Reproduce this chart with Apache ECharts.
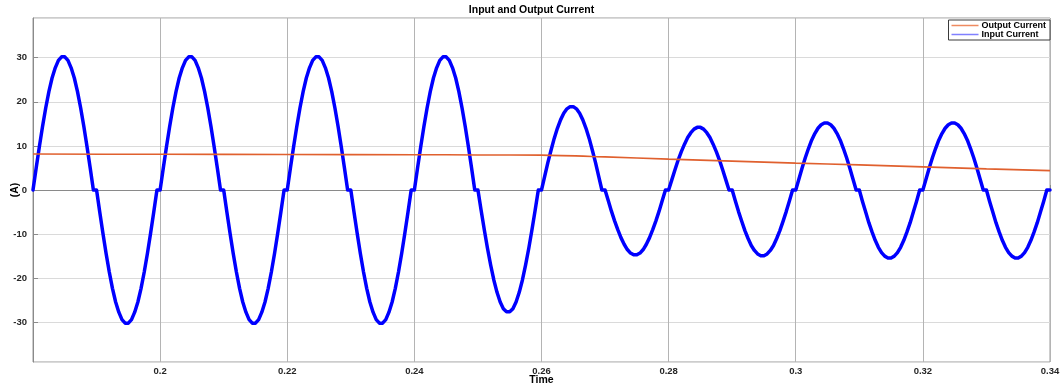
<!DOCTYPE html>
<html>
<head>
<meta charset="utf-8">
<script src="https://cdn.jsdelivr.net/npm/echarts@6/dist/echarts.min.js"></script>
<style>
  html, body { margin: 0; padding: 0; background: #fff; }
  #chart { width: 1063px; height: 387px; }
</style>
</head>
<body>
<div id="chart"></div>
<script>
// Input current is logged on a fixed 0.5 ms time base starting at t = 0.18 s
const SAMPLE_START = 0.18;
const SAMPLE_STEP = 0.0005;

// Input current (A), one row per 10 ms half cycle (20 samples each)
const inputCurrent = [
  0, 5.0, 9.8, 14.4, 18.6, 22.3, 25.4, 27.7, 29.4, 30.2, 30.2, 29.4, 27.7, 25.4, 22.3, 18.6, 14.4, 9.8, 5.0, 0,
  0, -5.0, -9.8, -14.4, -18.6, -22.3, -25.4, -27.7, -29.4, -30.2, -30.2, -29.4, -27.7, -25.4, -22.3, -18.6, -14.4, -9.8, -5.0, 0,
  0, 5.0, 9.8, 14.4, 18.6, 22.3, 25.4, 27.7, 29.4, 30.2, 30.2, 29.4, 27.7, 25.4, 22.3, 18.6, 14.4, 9.8, 5.0, 0,
  0, -5.0, -9.8, -14.4, -18.6, -22.3, -25.4, -27.7, -29.4, -30.2, -30.2, -29.4, -27.7, -25.4, -22.3, -18.6, -14.4, -9.8, -5.0, 0,
  0, 5.0, 9.8, 14.4, 18.6, 22.3, 25.4, 27.7, 29.4, 30.2, 30.2, 29.4, 27.7, 25.4, 22.3, 18.6, 14.4, 9.8, 5.0, 0,
  0, -5.0, -9.8, -14.4, -18.6, -22.3, -25.4, -27.7, -29.4, -30.2, -30.2, -29.4, -27.7, -25.4, -22.3, -18.6, -14.4, -9.8, -5.0, 0,
  0, 5.0, 9.8, 14.4, 18.6, 22.3, 25.4, 27.7, 29.4, 30.2, 30.2, 29.4, 27.7, 25.4, 22.3, 18.6, 14.4, 9.8, 5.0, 0,
  0, -4.6, -9.0, -13.2, -17.0, -20.4, -23.2, -25.4, -26.9, -27.6, -27.6, -26.9, -25.4, -23.2, -20.4, -17.0, -13.2, -9.0, -4.6, 0,
  0, 3.1, 6.2, 9.0, 11.7, 14.0, 15.9, 17.4, 18.4, 18.9, 18.9, 18.4, 17.4, 15.9, 14.0, 11.7, 9.0, 6.2, 3.1, 0,
  0, -2.4, -4.8, -7.0, -9.0, -10.8, -12.3, -13.5, -14.3, -14.7, -14.7, -14.3, -13.5, -12.3, -10.8, -9.0, -7.0, -4.8, -2.4, 0,
  0, 2.3, 4.6, 6.8, 8.7, 10.4, 11.9, 13.0, 13.8, 14.2, 14.2, 13.8, 13.0, 11.9, 10.4, 8.7, 6.8, 4.6, 2.3, 0,
  0, -2.5, -4.9, -7.1, -9.2, -11.0, -12.6, -13.7, -14.5, -14.9, -14.9, -14.5, -13.7, -12.6, -11.0, -9.2, -7.1, -4.9, -2.5, 0,
  0, 2.5, 5.0, 7.3, 9.4, 11.3, 12.8, 14.0, 14.8, 15.2, 15.2, 14.8, 14.0, 12.8, 11.3, 9.4, 7.3, 5.0, 2.5, 0,
  0, -2.6, -5.0, -7.4, -9.5, -11.4, -13.0, -14.2, -15.0, -15.4, -15.4, -15.0, -14.2, -13.0, -11.4, -9.5, -7.4, -5.0, -2.6, 0,
  0, 2.5, 5.0, 7.3, 9.4, 11.3, 12.8, 14.0, 14.8, 15.2, 15.2, 14.8, 14.0, 12.8, 11.3, 9.4, 7.3, 5.0, 2.5, 0,
  0, -2.6, -5.0, -7.4, -9.5, -11.4, -13.0, -14.2, -15.0, -15.4, -15.4, -15.0, -14.2, -13.0, -11.4, -9.5, -7.4, -5.0, -2.6, 0,
  0
];

// Output current (A)
const outputTime = [0.180, 0.200, 0.220, 0.240, 0.250, 0.260, 0.270, 0.280, 0.290, 0.300, 0.310, 0.320, 0.330, 0.340];
const outputCurrent = [8.15, 8.1, 8.05, 8.0, 7.95, 7.9, 7.5, 7.0, 6.55, 6.1, 5.7, 5.25, 4.8, 4.4];

const seriesNames = ['Output Current', 'Input Current'];
const seriesColors = { 'Output Current': '#e0602e', 'Input Current': '#0000ff' };
const legendColors = { 'Output Current': '#ee8a60', 'Input Current': '#8080ff' };

const FONT = '"Liberation Sans", Arial, Helvetica, sans-serif';
const TEXT = '#262626';

// Thin horizontal bar inside a 27x9 box (corner dots fix the box size)
const LEGEND_LINE = 'path://M0,0h0.01v0.01h-0.01z M0,3.7h27v1.6h-27z M26.99,8.99h0.01v0.01h-0.01z';

const chart = echarts.init(document.getElementById('chart'), null, { renderer: 'canvas' });

const inputData = inputCurrent.map((v, i) => [+(SAMPLE_START + i * SAMPLE_STEP).toFixed(4), v]);
const outputData = outputTime.map((t, i) => [t, outputCurrent[i]]);

chart.setOption({
  animation: false,
  backgroundColor: '#ffffff',
  title: {
    text: 'Input and Output Current',
    left: 'center',
    top: 5,
    padding: 0,
    textStyle: { fontFamily: FONT, fontSize: 10.5, fontWeight: 'bold', color: '#000' }
  },
  legend: {
    data: seriesNames.map(n => ({ name: n, icon: LEGEND_LINE, itemStyle: { color: legendColors[n] } })),
    orient: 'vertical',
    right: 13,
    top: 20,
    itemWidth: 27,
    itemHeight: 9,
    itemGap: 0,
    padding: [1, 4, 1, 3],
    borderColor: '#3a3a3a',
    borderWidth: 1,
    backgroundColor: '#fff',
    textStyle: { fontFamily: FONT, fontSize: 9, fontWeight: 'bold', color: '#000', padding: [0, 0, 0, -2] }
  },
  grid: {
    left: 33, right: 13, top: 18, bottom: 25,
    containLabel: false,
    outerBoundsMode: 'none',
    show: true,
    borderColor: '#9a9a9a',
    borderWidth: 1
  },
  xAxis: {
    type: 'value',
    min: 0.18,
    max: 0.34,
    interval: 0.02,
    name: 'Time',
    nameLocation: 'middle',
    nameGap: 13,
    nameMoveOverlap: false,
    nameTextStyle: { fontFamily: FONT, fontSize: 10.5, fontWeight: 'bold', color: '#000' },
    axisLine: { show: true, lineStyle: { color: '#8a8a8a' } },
    axisTick: { show: true, inside: true, length: 5, lineStyle: { color: '#8a8a8a' } },
    axisLabel: {
      showMinLabel: false,
      margin: 4,
      fontFamily: FONT, fontSize: 9.5, fontWeight: 'bold', color: TEXT,
      formatter: v => String(+v.toFixed(2))
    },
    splitLine: { show: true, lineStyle: { color: '#b4b4b4', width: 1 } }
  },
  yAxis: {
    type: 'value',
    min: -39,
    max: 39,
    splitNumber: 8,
    name: '(A)',
    nameLocation: 'middle',
    nameGap: 12,
    nameRotate: 90,
    nameMoveOverlap: false,
    nameTextStyle: { fontFamily: FONT, fontSize: 10.5, fontWeight: 'bold', color: '#000' },
    axisLine: { show: true, lineStyle: { color: '#8a8a8a' } },
    axisTick: { show: true, inside: true, length: 5, lineStyle: { color: '#8a8a8a' } },
    axisLabel: {
      showMinLabel: false,
      showMaxLabel: false,
      margin: 6,
      fontFamily: FONT, fontSize: 9.5, fontWeight: 'bold', color: TEXT
    },
    splitLine: { show: true, lineStyle: { color: '#dadada', width: 1 } }
  },
  series: [
    {
      name: 'Input Current',
      type: 'line',
      data: inputData,
      showSymbol: false,
      symbol: 'none',
      color: seriesColors['Input Current'],
      lineStyle: { color: seriesColors['Input Current'], width: 3.5, join: 'round', cap: 'round' },
      z: 2
    },
    {
      name: 'Output Current',
      type: 'line',
      data: outputData,
      showSymbol: false,
      symbol: 'none',
      smooth: 0.3,
      color: seriesColors['Output Current'],
      lineStyle: { color: seriesColors['Output Current'], width: 1.6 },
      z: 3
    }
  ]
});
</script>
</body>
</html>
